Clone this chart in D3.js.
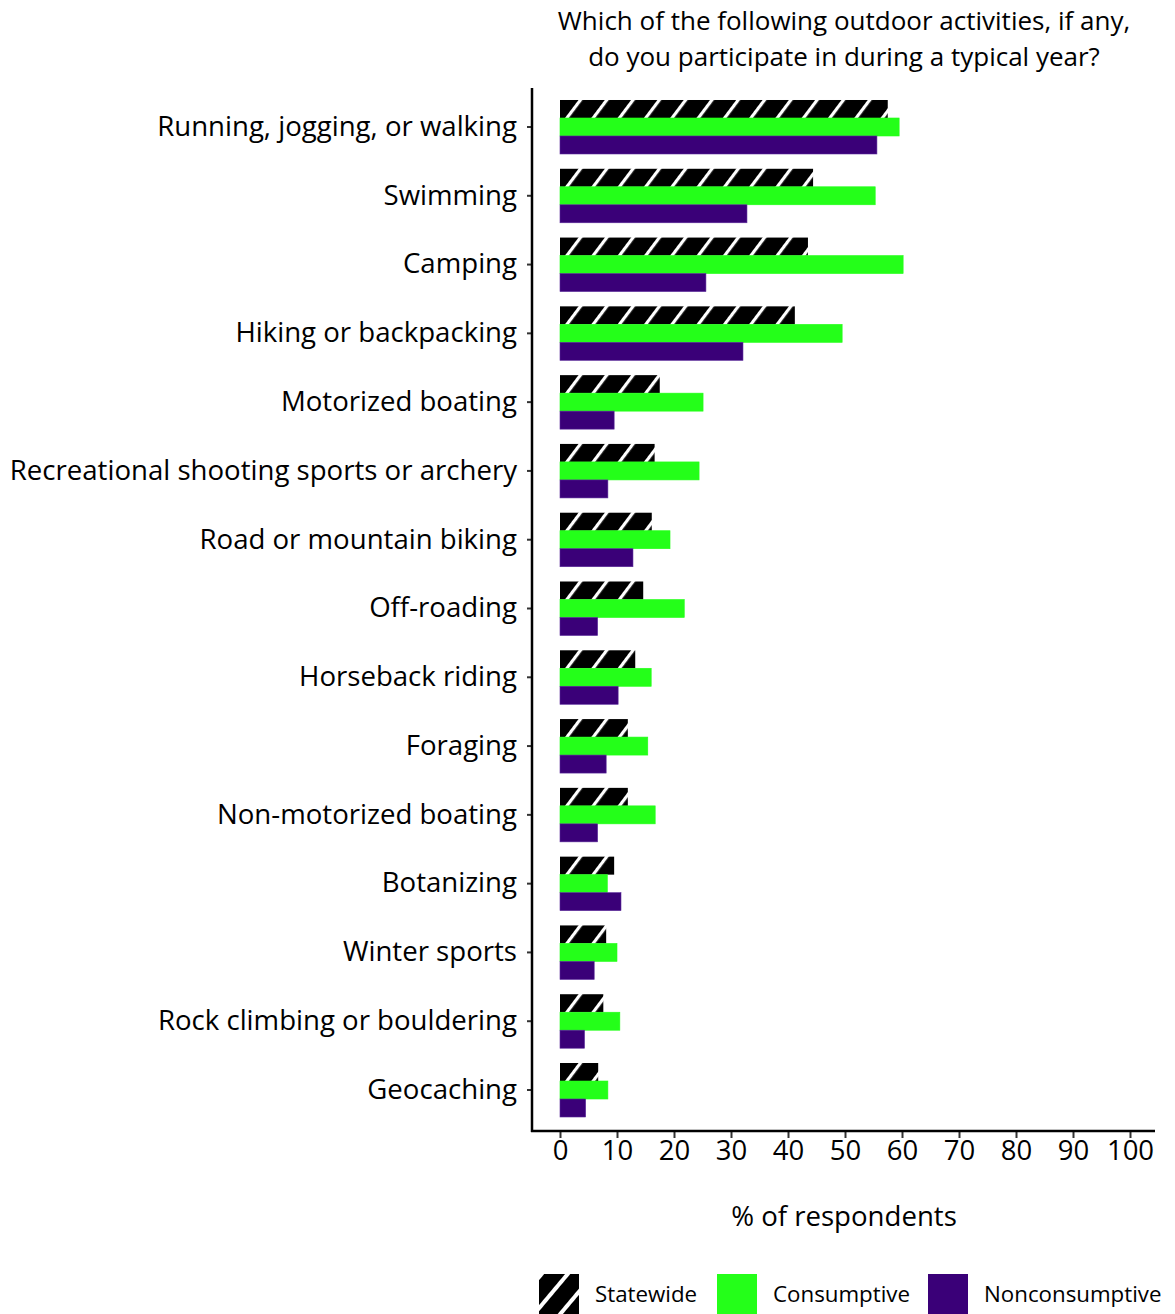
<!DOCTYPE html>
<html><head><meta charset="utf-8">
<script src="https://cdn.jsdelivr.net/npm/d3@7"></script>
<style>
html,body{margin:0;padding:0;background:#fff;}
svg{display:block;font-family:"Open Sans",sans-serif;}
</style></head>
<body>
<svg id="chart" width="1175" height="1314"></svg>
<script>
const categories = ["Running, jogging, or walking","Swimming","Camping","Hiking or backpacking","Motorized boating","Recreational shooting sports or archery","Road or mountain biking","Off-roading","Horseback riding","Foraging","Non-motorized boating","Botanizing","Winter sports","Rock climbing or bouldering","Geocaching"];
const seriesNames = ["Statewide","Consumptive","Nonconsumptive"];
const statewide = [57.5,44.4,43.5,41.2,17.5,16.6,16.1,14.6,13.2,11.9,11.9,9.5,8.1,7.6,6.7];
const consumptive = [59.5,55.3,60.2,49.5,25.1,24.4,19.3,21.8,16.0,15.4,16.7,8.3,10.0,10.5,8.4];
const nonconsumptive = [55.6,32.8,25.6,32.1,9.5,8.4,12.8,6.6,10.2,8.1,6.6,10.7,6.0,4.3,4.5];
const xTicks = [0,10,20,30,40,50,60,70,80,90,100];
const titleLines = ["Which of the following outdoor activities, if any,","do you participate in during a typical year?"];
const xTitle = "% of respondents";

const svg = d3.select("#chart");
const defs = svg.append("defs");
function hatch(id, spacing, lw, ang){
  const p = defs.append("pattern").attr("id",id).attr("patternUnits","userSpaceOnUse")
    .attr("width",spacing).attr("height",spacing).attr("patternTransform",`rotate(${ang})`);
  p.append("rect").attr("width",spacing).attr("height",spacing).attr("fill","#000");
  p.append("line").attr("x1",lw/2).attr("x2",lw/2).attr("y1",0).attr("y2",spacing).attr("stroke","#fff").attr("stroke-width",lw);
}
hatch("hatchBar",21,3.2,37);
hatch("hatchKey",20,4,40);

const fills = {Statewide:"url(#hatchBar)",Consumptive:"#24ff19",Nonconsumptive:"#3a0078"};
const keyFills = {Statewide:"url(#hatchKey)",Consumptive:"#24ff19",Nonconsumptive:"#3a0078"};
const strokes = {Statewide:"none",Consumptive:"#24ff19",Nonconsumptive:"#5a2a9a"};

const x = d3.scaleLinear().domain([0,100]).range([560,1130]);
const y = d3.scaleBand().domain(categories).range([92.6,1124.4]).paddingInner(0.215).paddingOuter(0.1075);
const ySub = d3.scaleBand().domain(seriesNames).range([0,y.bandwidth()]);

const data = categories.map((c,i)=>({cat:c, vals:[
  {s:"Statewide",v:statewide[i]},{s:"Consumptive",v:consumptive[i]},{s:"Nonconsumptive",v:nonconsumptive[i]}]}));

const g = svg.append("g");
const groups = g.selectAll("g.grp").data(data).join("g").attr("class","grp")
  .attr("transform",d=>`translate(0,${y(d.cat)})`);
groups.selectAll("rect").data(d=>d.vals).join("rect")
  .attr("x",x(0)).attr("y",d=>ySub(d.s)).attr("height",ySub.bandwidth())
  .attr("width",d=>x(d.v)-x(0)).attr("fill",d=>fills[d.s])
  .attr("stroke",d=>strokes[d.s]).attr("stroke-width",0.6);

// axes
const axisX = 532, axisY = 1131;
const xAxis = svg.append("g").attr("transform",`translate(0,${axisY})`)
  .call(d3.axisBottom(x).tickValues(xTicks).tickSize(7).tickPadding(2).tickFormat(d3.format("d")));
xAxis.select(".domain").remove();
xAxis.selectAll(".tick line").attr("stroke","#333").attr("stroke-width",2);
xAxis.selectAll(".tick text").attr("font-size",27.5).attr("fill","#000").attr("font-family","Open Sans");

const yAxis = svg.append("g").attr("transform",`translate(${axisX},0)`)
  .call(d3.axisLeft(y).tickSize(5).tickPadding(10));
yAxis.select(".domain").remove();
yAxis.selectAll(".tick line").attr("stroke","#333").attr("stroke-width",2);
yAxis.selectAll(".tick text").attr("font-size",27.6).attr("fill","#000").attr("font-family","Open Sans");

svg.append("line").attr("x1",axisX).attr("x2",axisX).attr("y1",88).attr("y2",axisY+1).attr("stroke","#000").attr("stroke-width",2.5);
svg.append("line").attr("x1",axisX-1).attr("x2",1155).attr("y1",axisY).attr("y2",axisY).attr("stroke","#000").attr("stroke-width",2.5);

// title
svg.append("g").selectAll("text").data(titleLines).join("text")
  .attr("x",844).attr("y",(d,i)=>30+i*36).attr("text-anchor","middle")
  .attr("font-size",26).attr("fill","#000").text(d=>d);

svg.append("text").attr("x",844).attr("y",1226).attr("text-anchor","middle")
  .attr("font-size",27.6).attr("fill","#000").text(xTitle);

// legend
const legendX = [539,717,928];
const leg = svg.append("g").selectAll("g").data(seriesNames).join("g")
  .attr("transform",(d,i)=>`translate(${legendX[i]},1274)`);
leg.append("rect").attr("width",40).attr("height",42).attr("fill",d=>keyFills[d]);
leg.append("text").attr("x",56).attr("y",28).attr("font-size",22.3).attr("fill","#000").text(d=>d);
</script>
</body></html>
